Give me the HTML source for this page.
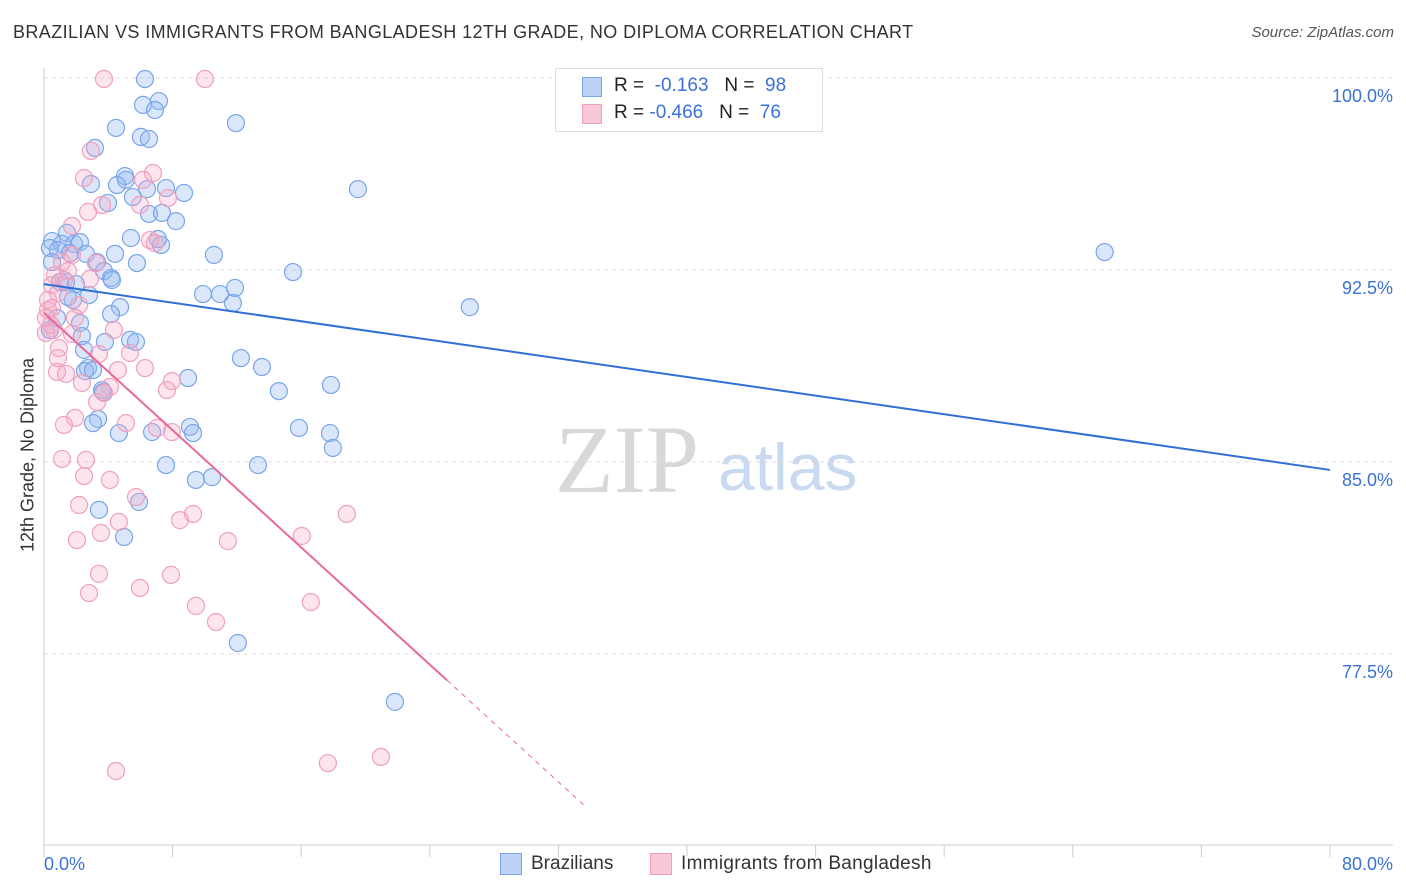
<!DOCTYPE html>
<html><head><meta charset="utf-8"><style>
body{margin:0;background:#fff;font-family:"Liberation Sans",sans-serif;}
#wrap{position:relative;width:1406px;height:892px;overflow:hidden;}
.t{position:absolute;white-space:nowrap;}
</style></head><body>
<div id="wrap">
<div class="t" style="left:13px;top:22px;font-size:18px;color:#333;letter-spacing:0.4px;">BRAZILIAN VS IMMIGRANTS FROM BANGLADESH 12TH GRADE, NO DIPLOMA CORRELATION CHART</div>
<div class="t" style="right:12px;top:24px;font-size:15px;color:#555;font-style:italic;">Source: ZipAtlas.com</div>
<div class="t" style="left:28px;top:455px;font-size:18px;color:#333;transform:translate(-50%,-50%) rotate(-90deg);">12th Grade, No Diploma</div>
<svg id="plot" width="1406" height="892" style="position:absolute;left:0;top:0">
<text x="555" y="492" font-family="Liberation Serif,serif" font-size="96" fill="#d8d8d8">ZIP</text>
<text x="718" y="490" font-family="Liberation Sans,sans-serif" font-size="66" fill="#c9d9f0">atlas</text>
</svg>
<div style="position:absolute;left:555px;top:68px;width:266px;height:62px;border:1px solid #ddd;background:#fff;font-size:19px;color:#222;">
 <div style="position:absolute;left:26px;top:8px;width:18px;height:18px;background:#bcd2f5;border:1px solid #7aa5e8;"></div>
 <div class="t" style="left:58px;top:6px;">R = &nbsp;<span style="color:#3a72d8">-0.163</span> &nbsp;&nbsp;N = &nbsp;<span style="color:#3a72d8">98</span></div>
 <div style="position:absolute;left:26px;top:35px;width:18px;height:18px;background:#f9c8d8;border:1px solid #f0a0bd;"></div>
 <div class="t" style="left:58px;top:33px;">R = <span style="color:#3a72d8">-0.466</span> &nbsp;&nbsp;N = &nbsp;<span style="color:#3a72d8">76</span></div>
</div>
<div style="position:absolute;left:500px;top:853px;width:20px;height:20px;background:#bcd2f5;border:1px solid #7aa5e8;"></div>
<div class="t" style="left:531px;top:853px;font-size:19px;color:#333;">Brazilians</div>
<div style="position:absolute;left:650px;top:853px;width:20px;height:20px;background:#f9c8d8;border:1px solid #f0a0bd;"></div>
<div class="t" style="left:681px;top:853px;font-size:19px;color:#333;letter-spacing:0.3px;">Immigrants from Bangladesh</div>
</div>
<script>
const yTicks=[100,92.5,85,77.5];
const yTickLabels=["100.0%","92.5%","85.0%","77.5%"];
const xTickLabels=["0.0%","80.0%"];
const blueX=[6.28,7.15,6.16,6.90,4.48,11.94,6.03,6.53,3.17,5.04,5.10,4.54,2.92,7.59,8.71,6.41,5.53,3.98,19.53,6.53,7.34,8.21,1.43,0.50,1.12,1.87,2.24,0.37,0.87,1.62,2.61,5.41,7.28,7.09,4.42,10.57,5.78,3.30,3.73,4.17,4.23,1.37,1.99,2.80,1.80,1.49,15.49,11.88,11.75,9.89,10.95,4.73,4.17,26.49,65.98,2.24,2.36,3.79,5.35,5.72,2.49,12.25,13.56,2.74,2.55,3.05,8.96,14.61,17.85,3.61,3.67,3.36,3.05,4.66,6.72,9.08,9.27,15.86,17.79,17.97,7.59,13.31,9.45,10.45,5.91,3.42,4.98,12.06,21.83,0.37,0.81,1.00,0.50];
const blueY=[99.96,99.10,98.95,98.75,98.05,98.24,97.70,97.62,97.27,96.17,96.02,95.82,95.86,95.70,95.51,95.66,95.35,95.12,95.66,94.69,94.73,94.41,93.95,93.63,93.52,93.52,93.59,93.36,93.28,93.16,93.13,93.75,93.48,93.71,93.13,93.09,92.77,92.81,92.46,92.19,92.11,92.03,91.95,91.52,91.33,91.45,92.42,91.80,91.21,91.56,91.56,91.05,90.78,91.05,93.20,90.43,89.92,89.69,89.77,89.69,89.38,89.06,88.71,88.67,88.55,88.59,88.28,87.77,88.01,87.81,87.73,86.68,86.52,86.13,86.17,86.37,86.13,86.33,86.13,85.55,84.88,84.88,84.30,84.41,83.44,83.13,82.07,77.93,75.63,90.16,90.63,92.03,92.81];
const pinkX=[3.73,10.01,2.92,6.78,2.49,6.16,3.61,7.71,5.97,2.74,1.74,6.59,6.90,1.74,3.23,0.68,1.49,1.24,2.86,0.50,0.87,2.18,1.93,0.25,0.44,0.62,0.12,4.35,0.93,3.42,5.35,1.74,0.81,1.37,2.36,4.60,6.28,7.96,7.65,4.10,3.73,3.30,1.93,5.10,1.24,7.03,7.96,1.12,2.61,4.10,2.49,2.18,5.72,2.05,3.54,4.66,8.46,9.27,18.84,11.44,16.04,3.42,5.97,2.80,7.90,9.45,10.70,16.60,4.48,17.66,20.96,0.50,0.87,0.12,0.25,1.12];
const pinkY=[99.96,99.96,97.15,96.29,96.09,96.02,95.04,95.31,95.04,94.77,94.22,93.67,93.55,93.09,92.77,92.30,92.46,92.11,92.15,91.91,91.60,91.13,90.63,90.94,90.35,90.16,90.04,90.16,89.45,89.22,89.26,90.00,88.52,88.44,88.09,88.59,88.67,88.16,87.81,87.93,87.70,87.34,86.72,86.52,86.45,86.33,86.17,85.12,85.08,84.30,84.45,83.32,83.63,81.95,82.23,82.66,82.73,82.97,82.97,81.91,82.11,80.63,80.08,79.88,80.59,79.38,78.75,79.53,72.93,73.24,73.48,91.02,89.06,90.63,91.33,92.81];
const blueTrend=[91.95,84.69];
const pinkTrend=[90.82,-0.5723];
const X0=44,X1=1330,XMAX=80;
const sx=v=>X0+(X1-X0)*v/XMAX;
const sy=v=>78+(100-v)*25.6;
const svg=document.getElementById('plot');
const NS='http://www.w3.org/2000/svg';
function mk(tag,attrs){const e=document.createElementNS(NS,tag);for(const k in attrs)e.setAttribute(k,attrs[k]);svg.appendChild(e);return e;}
yTicks.forEach((t,i)=>{
 const g=mk('line',{x1:X0,x2:1393,y1:sy(t),y2:sy(t),stroke:'#dcdcdc','stroke-dasharray':'4,4'});
 
 
 const l=mk('text',{x:1393,y:sy(t)+24,'text-anchor':'end','font-size':18,fill:'#3a72d8','font-family':'Liberation Sans,sans-serif'});
 l.textContent=yTickLabels[i];
 
 
});
const ax=mk('line',{x1:X0,x2:1393,y1:845,y2:845,stroke:'#ccc'});


const ay=mk('line',{x1:X0,x2:X0,y1:68,y2:845,stroke:'#ccc'});


for(let i=0;i<=10;i++){
 const tk=mk('line',{x1:sx(i*8),x2:sx(i*8),y1:845,y2:857,stroke:'#ccc'});
 
 
}
[0,80].forEach((v,i)=>{
 const l=mk('text',{x:i?1393:X0,y:870,'text-anchor':i?'end':'start','font-size':18,fill:'#3a72d8','font-family':'Liberation Sans,sans-serif'});
 l.textContent=xTickLabels[i];
 
 
});
blueX.forEach((x,i)=>{
 const c=mk('circle',{cx:sx(x),cy:sy(blueY[i]),r:8.5,fill:'rgba(150,185,240,0.35)',stroke:'#7aa5e8','stroke-width':1.2});
 
 
});
pinkX.forEach((x,i)=>{
 const c=mk('circle',{cx:sx(x),cy:sy(pinkY[i]),r:8.5,fill:'rgba(245,170,198,0.3)',stroke:'#f0a0bd','stroke-width':1.2});
 
 
});
const bl=mk('line',{x1:sx(0),y1:sy(blueTrend[0]),x2:sx(80),y2:sy(blueTrend[1]),stroke:'#2f6fd6','stroke-width':2});


const pe=25.06,pd=33.77;
const pl=mk('line',{x1:sx(0),y1:sy(pinkTrend[0]),x2:sx(pe),y2:sy(pinkTrend[0]+pinkTrend[1]*pe),stroke:'#e8689a','stroke-width':2});


const pdl=mk('line',{x1:sx(pe),y1:sy(pinkTrend[0]+pinkTrend[1]*pe),x2:sx(pd),y2:sy(pinkTrend[0]+pinkTrend[1]*pd),stroke:'#e8689a','stroke-width':1,'stroke-dasharray':'5,5'});


</script>
</body></html>
